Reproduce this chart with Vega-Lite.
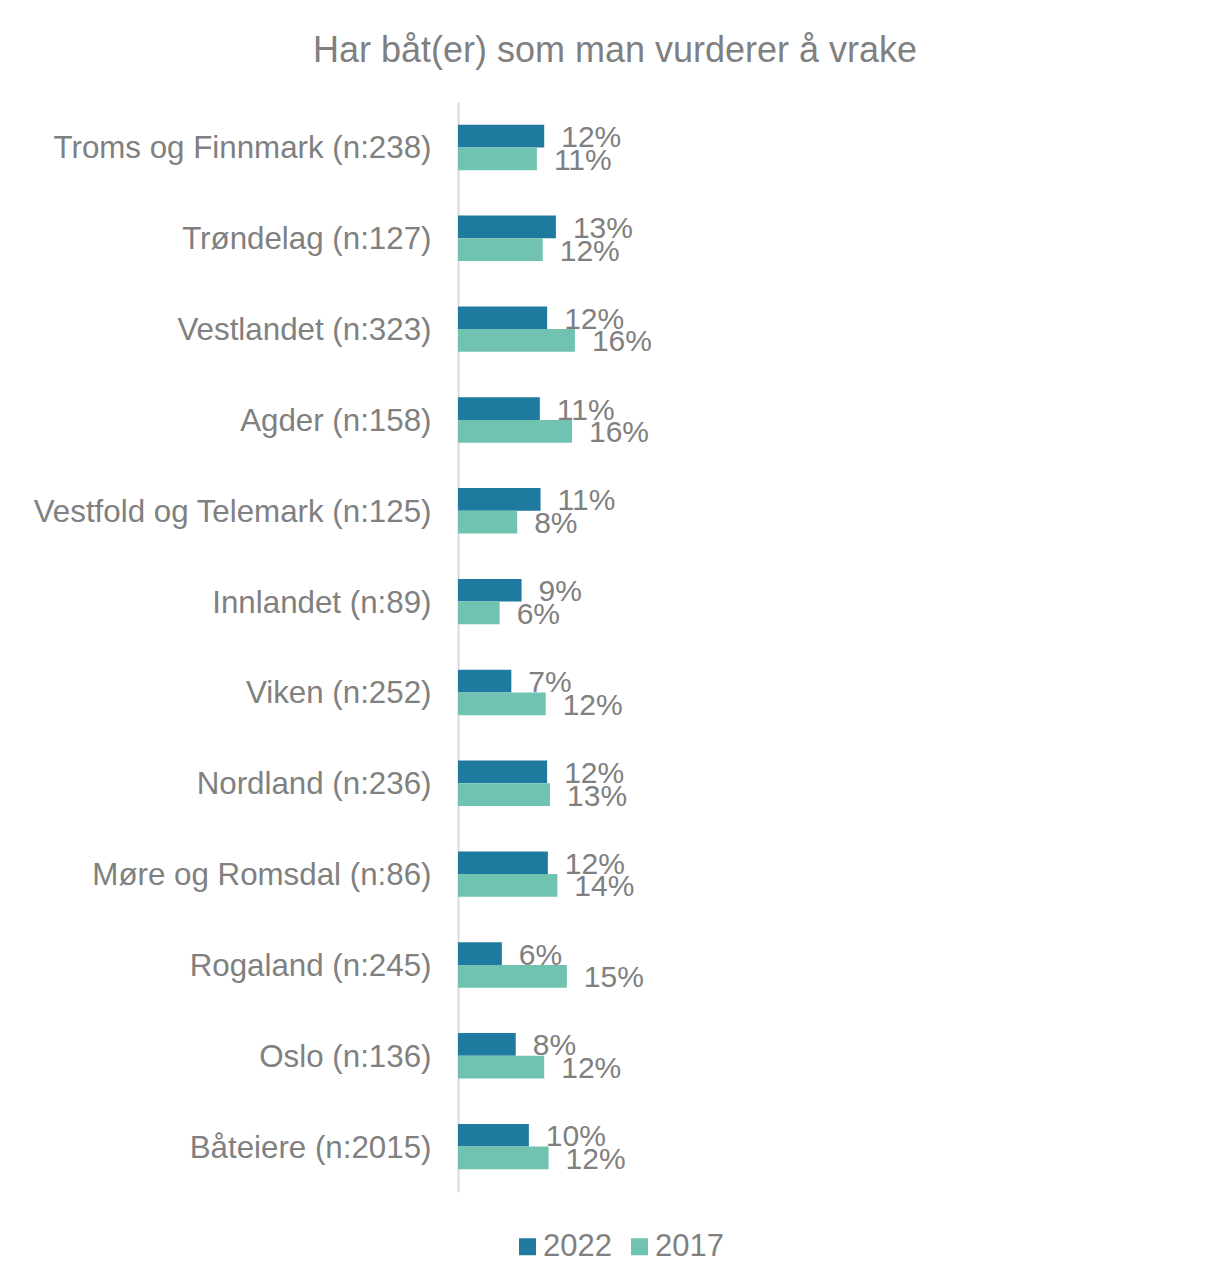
{
  "$schema": "https://vega.github.io/schema/vega-lite/v6.json",
  "width": 716,
  "height": 1090,
  "autosize": {"type": "none"},
  "padding": {"left": 458, "top": 102, "right": 34, "bottom": 89},
  "background": "white",
  "config": {
    "view": {"stroke": null},
    "font": "Liberation Sans"
  },
  "title": {
    "text": "Har båt(er) som man vurderer å vrake",
    "font": "Liberation Sans",
    "fontSize": 36,
    "fontWeight": "normal",
    "color": "#808080",
    "anchor": "middle",
    "frame": "group",
    "baseline": "alphabetic",
    "offset": 4,
    "dx": -201
  },
  "data": {
    "values": [
      {"region": "Troms og Finnmark (n:238)", "year": "2022", "value": 0.118},
      {"region": "Troms og Finnmark (n:238)", "year": "2017", "value": 0.108},
      {"region": "Trøndelag (n:127)", "year": "2022", "value": 0.134},
      {"region": "Trøndelag (n:127)", "year": "2017", "value": 0.116},
      {"region": "Vestlandet (n:323)", "year": "2022", "value": 0.122},
      {"region": "Vestlandet (n:323)", "year": "2017", "value": 0.16},
      {"region": "Agder (n:158)", "year": "2022", "value": 0.112},
      {"region": "Agder (n:158)", "year": "2017", "value": 0.156},
      {"region": "Vestfold og Telemark (n:125)", "year": "2022", "value": 0.113},
      {"region": "Vestfold og Telemark (n:125)", "year": "2017", "value": 0.081},
      {"region": "Innlandet (n:89)", "year": "2022", "value": 0.087},
      {"region": "Innlandet (n:89)", "year": "2017", "value": 0.057},
      {"region": "Viken (n:252)", "year": "2022", "value": 0.073},
      {"region": "Viken (n:252)", "year": "2017", "value": 0.12},
      {"region": "Nordland (n:236)", "year": "2022", "value": 0.122},
      {"region": "Nordland (n:236)", "year": "2017", "value": 0.126},
      {"region": "Møre og Romsdal (n:86)", "year": "2022", "value": 0.123},
      {"region": "Møre og Romsdal (n:86)", "year": "2017", "value": 0.136},
      {"region": "Rogaland (n:245)", "year": "2022", "value": 0.06},
      {"region": "Rogaland (n:245)", "year": "2017", "value": 0.149},
      {"region": "Oslo (n:136)", "year": "2022", "value": 0.079},
      {"region": "Oslo (n:136)", "year": "2017", "value": 0.118},
      {"region": "Båteiere (n:2015)", "year": "2022", "value": 0.097},
      {"region": "Båteiere (n:2015)", "year": "2017", "value": 0.124}
    ]
  },
  "encoding": {
    "y": {
      "field": "region",
      "type": "nominal",
      "sort": null,
      "scale": {"paddingInner": 0.5, "paddingOuter": 0.25},
      "axis": {
        "title": null,
        "ticks": false,
        "domainColor": "#d9d9d9",
        "domainWidth": 2,
        "labelFontSize": 31.3,
        "labelFont": "Liberation Sans",
        "labelColor": "#808080",
        "labelPadding": 27,
        "labelOffset": 2,
        "labelLimit": 600,
        "grid": false
      }
    },
    "yOffset": {
      "field": "year",
      "type": "nominal",
      "scale": {"domain": ["2022", "2017"], "paddingInner": 0, "paddingOuter": 0}
    },
    "x": {
      "field": "value",
      "type": "quantitative",
      "scale": {"domain": [0, 0.98], "nice": false, "zero": true},
      "axis": null
    }
  },
  "layer": [
    {
      "mark": {"type": "bar", "opacity": 1},
      "encoding": {
        "color": {
          "field": "year",
          "type": "nominal",
          "scale": {"domain": ["2022", "2017"], "range": ["#1f7a9f", "#70c3b1"]},
          "legend": {
            "title": null,
            "orient": "none",
            "direction": "horizontal",
            "legendX": 54,
            "legendY": 1129,
            "padding": 0,
            "symbolType": "square",
            "symbolSize": 289,
            "symbolStrokeWidth": 0,
            "symbolOpacity": 1,
            "labelFontSize": 31,
            "labelFont": "Liberation Sans",
            "labelColor": "#808080",
            "labelOffset": 0,
            "columnPadding": 12
          }
        }
      }
    },
    {
      "mark": {
        "type": "text",
        "align": "left",
        "baseline": "middle",
        "dx": 17,
        "dy": 2,
        "fontSize": 30,
        "font": "Liberation Sans",
        "color": "#808080"
      },
      "encoding": {
        "text": {"field": "value", "type": "quantitative", "format": ".0%"}
      }
    }
  ]
}
